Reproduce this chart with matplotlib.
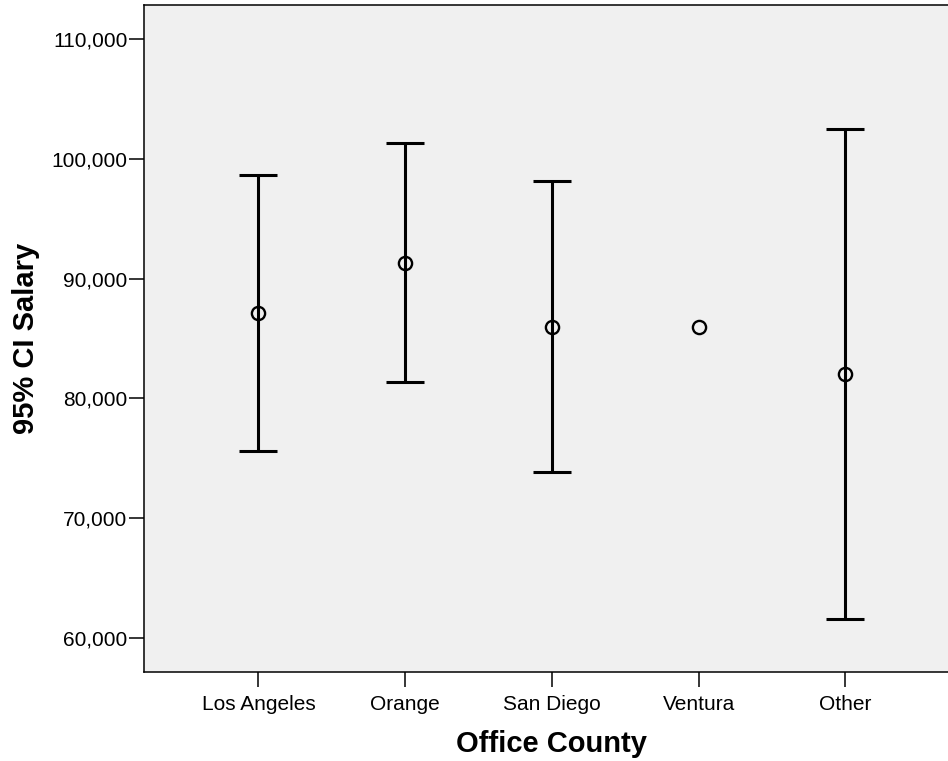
import numpy as np
import matplotlib
matplotlib.use("Agg")
import matplotlib.pyplot as plt
from matplotlib.ticker import FuncFormatter

# mean salary and 95% confidence bounds by office county
counties = ["Los Angeles", "Orange", "San Diego", "Ventura", "Other"]
mean_salary = [87150, 91330, 85985, 85985, 82010]
ci_lower = [75630, 81340, 73830, np.nan, 61560]
ci_upper = [98620, 101320, 98150, np.nan, 102460]
y_ticks = [60000, 70000, 80000, 90000, 100000, 110000]

plt.rcParams['font.family'] = ['Liberation Sans', 'DejaVu Sans']

fig = plt.figure(figsize=(9.48, 7.61), dpi=100)
# axes runs past the right edge of the figure
ax = fig.add_axes((143.5 / 948, 89.3 / 761, 816.7 / 948, 666.7 / 761))
ax.set_facecolor('#f0f0f0')

x = np.arange(len(counties))
mean = np.array(mean_salary, dtype=float)
lo = np.array(ci_lower, dtype=float)
hi = np.array(ci_upper, dtype=float)

# error bars only where an interval exists
has_ci = ~np.isnan(lo)
ax.errorbar(x[has_ci], mean[has_ci],
            yerr=[mean[has_ci] - lo[has_ci], hi[has_ci] - mean[has_ci]],
            fmt='none', ecolor='black', elinewidth=2.2, capsize=13.4,
            capthick=2.2, zorder=2)

# means as open circles
ax.plot(x, mean, linestyle='none', marker='o', markersize=9.5,
        markerfacecolor='none', markeredgecolor='black',
        markeredgewidth=1.7, zorder=3)

ax.set_xlim(-0.783, len(counties) - 1 + 0.783)
ax.set_ylim(57187, 112838)
ax.set_xticks(x)
ax.set_xticklabels(counties)
ax.set_yticks(y_ticks)
ax.yaxis.set_major_formatter(FuncFormatter(lambda v, p: f"{int(v):,}"))

for side in ['top', 'bottom', 'left', 'right']:
    ax.spines[side].set_linewidth(1.1)
ax.tick_params(axis='both', direction='out', length=10.5, width=1.1,
               labelsize=15, color='black')
ax.tick_params(axis='y', pad=1)
ax.tick_params(axis='x', pad=6)

ax.set_xlabel("Office County", fontsize=21, fontweight='bold', labelpad=12)
ax.set_ylabel("95% CI Salary", fontsize=21, fontweight='bold', labelpad=8)

fig.savefig("out.png", dpi=100, facecolor='white')
